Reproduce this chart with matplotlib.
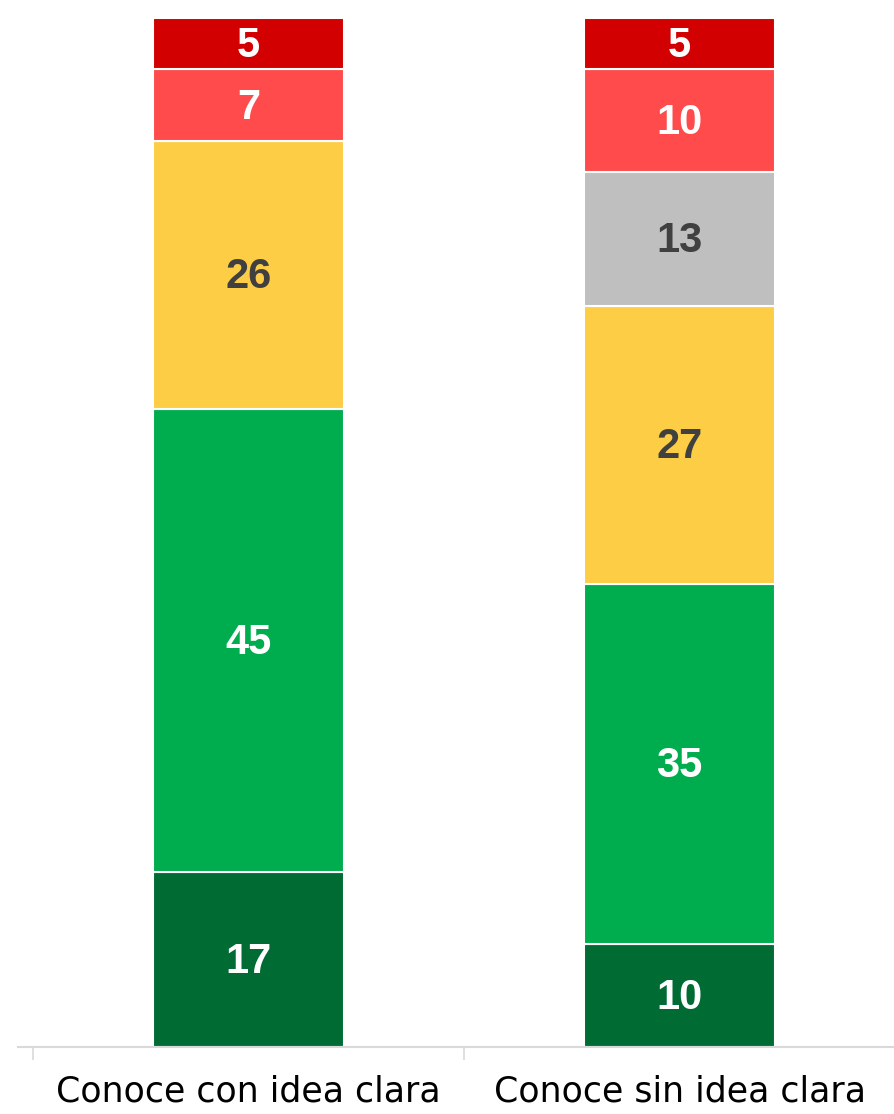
import matplotlib
matplotlib.use("Agg")
import matplotlib.pyplot as plt
import numpy as np

categories = ["Conoce con idea clara", "Conoce sin idea clara"]
# stacked bottom -> top
seg_dark_green = [17, 10]
seg_green = [45, 35]
seg_yellow = [26, 27]
seg_gray = [0, 13]
seg_light_red = [7, 10]
seg_dark_red = [5, 5]

series = [
    (seg_dark_green, "#006B33", "white"),
    (seg_green, "#00AD4E", "white"),
    (seg_yellow, "#FDCD45", "#404040"),
    (seg_gray, "#BFBFBF", "#404040"),
    (seg_light_red, "#FF4B4B", "white"),
    (seg_dark_red, "#D20000", "white"),
]

W, H = 895, 1114
fig = plt.figure(figsize=(W / 100, H / 100), dpi=100)
left = 18 / W
bottom = (H - 1047) / H
top = (H - 18) / H
ax = fig.add_axes([left, bottom, 1 - left, top - bottom])

x = np.arange(len(categories))
base = np.zeros(len(categories))
for vals, color, tcolor in series:
    vals = np.array(vals, dtype=float)
    ax.bar(x, vals, width=0.444, bottom=base, color=color,
           edgecolor="white", linewidth=1.5, zorder=2)
    for xi, v, b in zip(x, vals, base):
        if v > 0:
            ax.text(xi, b + v / 2 - 0.2, f"{int(v)}", ha="center", va="center",
                    color=tcolor, fontsize=30, fontweight="bold",
                    family=["Liberation Sans", "DejaVu Sans"], zorder=3)
    base += vals

ax.set_xlim(-0.535, 1.495)
ax.set_ylim(0, 100)
ax.set_yticks([])
ax.set_xticks(x)
ax.set_xticklabels(categories, fontsize=25, family=["DejaVu Sans"], color="black")
ax.tick_params(axis="x", which="major", length=0, pad=20)
ax.set_xticks([-0.5, 0.5, 1.5], minor=True)
ax.tick_params(axis="x", which="minor", length=9, width=1.2, color="#D9D9D9")
for s in ["top", "right", "left"]:
    ax.spines[s].set_visible(False)
ax.spines["bottom"].set_color("#D9D9D9")
ax.spines["bottom"].set_linewidth(1.5)
ax.set_facecolor("white")

fig.savefig("out.png", dpi=100, facecolor="white")
